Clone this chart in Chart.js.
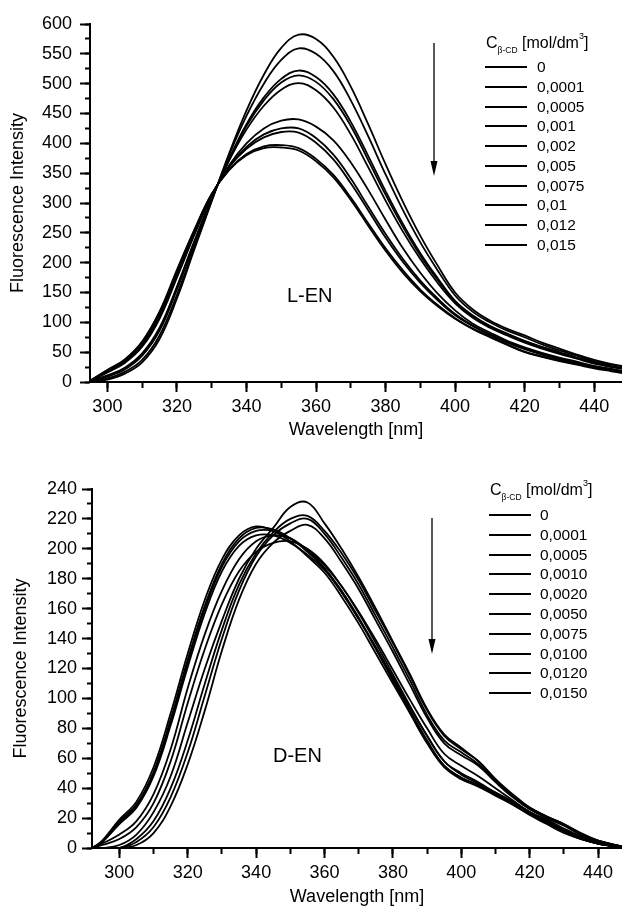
<!DOCTYPE html>
<html>
<head>
<meta charset="utf-8">
<script src="https://cdn.jsdelivr.net/npm/chart.js@4.4.0/dist/chart.umd.min.js"></script>
<style>
  body { margin: 0; background: #fff; }
  #wrap { position: relative; width: 622px; height: 908px; overflow: hidden;
          font-family: "Liberation Sans", Arial, sans-serif; color: #000; }
  canvas { position: absolute; left: 0; }
  .ltitle { position: absolute; white-space: nowrap; font-size: 16px; line-height: 20px; }
  .ltitle sub { font-size: 8.5px; line-height: 0; vertical-align: -5px; }
  .ltitle sup { font-size: 9px; line-height: 0; vertical-align: 9px; }
  .row { position: absolute; height: 20px; white-space: nowrap; }
  .row .ln { position: absolute; left: 0; top: 9px; width: 42px; height: 2px; background: #000; }
  .row .tx { position: absolute; top: 0; font-size: 15.5px; line-height: 20px; }
  .tag { position: absolute; font-size: 20px; line-height: 20px; white-space: nowrap; }
  svg { position: absolute; left: 0; top: 0; }
</style>
</head>
<body>
<div id="wrap">
  <canvas id="topChart" width="622" height="450" style="top:0"></canvas>
  <canvas id="bottomChart" width="622" height="458" style="top:450px"></canvas>
  <div class="tag" style="left:287px;top:285px">L-EN</div>
  <div class="tag" style="left:273px;top:745px">D-EN</div>
  <svg width="622" height="908">
    <line x1="434" y1="43" x2="434" y2="163" stroke="#000" stroke-width="1.3"/>
    <polygon points="430.5,161 437.5,161 434,176" fill="#000"/>
    <line x1="432" y1="518" x2="432" y2="641" stroke="#000" stroke-width="1.3"/>
    <polygon points="428.5,639 435.5,639 432,654" fill="#000"/>
  </svg>
</div>
<script>
// ---- L-EN (upper panel) ----
const topWavelength = [295,300,305,310,315,320,325,330,335,340,345,350,355,360,365,370,375,380,385,390,395,400,405,410,415,420,425,430,435,440,445,448];
const topConcLabels = ['0', '0,0001', '0,0005', '0,001', '0,002', '0,005', '0,0075', '0,01', '0,012', '0,015'];
const lEn0     = [0,4,14,33,72,140,222,303,383,455,515,560,582,575,545,495,432,365,302,245,195,150,122,103,89,78,66,56,46,37,30,27];
const lEn00001 = [0,6,17,37,78,146,226,304,380,446,500,540,559,550,521,472,412,348,288,234,187,145,118,100,86,75,63,53,44,35,29,26];
const lEn00005 = [1,9,21,44,86,155,232,307,374,432,477,508,522,511,482,436,379,320,265,216,174,136,112,94,81,69,59,50,41,33,26,23];
const lEn0001  = [1,10,22,45,88,157,234,307,372,429,472,502,514,503,474,429,372,314,260,212,171,135,111,93,80,68,58,49,40,32,26,23];
const lEn0002  = [1,11,24,48,91,160,236,308,371,423,463,490,501,489,460,415,360,304,252,206,166,132,108,91,78,66,56,47,39,31,25,22];
const lEn0005  = [1,16,32,59,106,175,246,312,363,400,425,438,440,428,405,368,322,272,224,183,148,120,98,83,69,58,49,41,34,27,22,19];
const lEn00075 = [2,17,34,62,111,178,249,313,361,394,415,425,425,409,381,341,294,248,206,170,140,114,95,80,67,56,47,39,32,26,21,18];
const lEn001   = [2,18,35,63,113,181,250,313,360,391,410,419,418,401,373,333,288,242,201,166,137,112,94,79,66,55,46,38,31,25,20,17];
const lEn0012  = [2,20,37,67,117,186,254,315,356,382,395,397,392,374,347,309,266,224,187,155,129,107,90,76,63,51,43,36,30,24,19,16];
const lEn0015  = [2,20,38,68,118,188,255,315,355,380,392,393,388,370,343,305,262,220,183,152,127,106,89,75,62,50,42,35,29,23,18,15];

// ---- D-EN (lower panel) ----
const bottomWavelength = [292,295,300,305,310,315,320,325,330,335,340,345,350,355,360,365,370,375,380,385,390,395,400,405,410,415,420,425,430,435,440,445,447];
const bottomConcLabels = ['0', '0,0001', '0,0005', '0,0010', '0,0020', '0,0050', '0,0075', '0,0100', '0,0120', '0,0150'];
const dEn0     = [0,0,2,9,24,48,84,120,152,180,200,214,228,231,217,200,181,160,138,116,93,76,67,58,46,36,27,21,16,9,5,2,1];
const dEn00001 = [0,0,0,6,18,40,72,110,146,176,197,211,220,222,212,197,179,158,137,115,92,75,66,58,46,35,27,21,15,9,5,2,1];
const dEn00005 = [0,0,0,4,14,34,64,102,140,172,195,209,217,220,210,194,176,155,134,112,89,72,64,56,45,35,26,20,15,9,4,2,1];
const dEn0001  = [0,0,0,2,10,28,56,92,132,166,190,204,212,216,207,191,173,152,131,109,87,70,62,55,44,34,26,21,16,10,5,2,1];
const dEn0002  = [0,2,6,14,30,58,97,133,163,185,198,204,205,200,190,175,158,139,119,99,80,63,55,48,40,32,24,19,13,8,4,2,1];
const dEn0005  = [0,3,9,18,36,66,107,143,172,193,205,209,207,199,187,171,153,134,114,94,75,58,50,44,37,31,24,18,12,7,3,1,0];
const dEn00075 = [0,5,19,31,54,90,130,166,193,209,215,212,205,195,184,168,150,130,110,90,70,54,46,41,35,29,22,16,10,6,3,1,0];
const dEn001   = [0,4,18,29,51,86,126,162,190,207,214,213,207,198,187,172,154,134,113,92,72,55,47,42,36,30,23,17,11,6,3,1,0];
const dEn0012  = [0,4,17,28,49,84,124,160,188,205,212,212,207,199,189,175,157,137,116,95,75,58,49,43,37,31,24,18,12,7,3,1,0];
const dEn0015  = [0,4,16,27,48,82,121,157,185,202,209,209,204,196,186,171,153,133,112,91,71,55,47,42,36,30,23,17,11,6,3,1,0];

Chart.defaults.font.family = '"Liberation Sans", Arial, sans-serif';
Chart.defaults.color = '#000';

function buildChart(id, wl, series, labels, o) {
    const datasets = series.map((vals, i) => ({
        label: labels[i],
        data: vals.map((v, k) => ({ x: wl[k], y: v })),
        borderColor: '#000',
        borderWidth: 1.8,
        pointRadius: 0,
        tension: 0.4,
        fill: false
    }));
    const tickGrid = (len) => ({ drawOnChartArea: false, tickLength: len, tickWidth: 2, tickColor: '#000' });

    new Chart(document.getElementById(id), {
        type: 'line',
        data: { datasets: datasets },
        options: {
            responsive: false,
            animation: false,
            layout: { padding: { top: o.padTop, right: 0, left: 0, bottom: 0 } },
            plugins: { legend: { display: false }, tooltip: { enabled: false } },
            scales: {
                x: {
                    type: 'linear', position: 'bottom', weight: 1, min: o.xMin, max: o.xMax,
                    ticks: { stepSize: 20, includeBounds: false, padding: o.xPad, font: { size: 18 }, maxRotation: 0, autoSkip: false },
                    grid: tickGrid(10),
                    border: { color: '#000', width: 2 },
                    title: { display: true, text: 'Wavelength [nm]', font: { size: 18 }, padding: { top: 0, bottom: o.xTitlePad } },
                    afterFit: s => { s.height = o.xH; }
                },
                xMinor: {
                    type: 'linear', position: 'bottom', weight: 0, min: o.xMin, max: o.xMax,
                    ticks: { stepSize: 10, includeBounds: false, display: false },
                    grid: tickGrid(6),
                    border: { display: false },
                    afterFit: s => { s.height = 0; }
                },
                y: {
                    type: 'linear', position: 'left', weight: 1, min: 0, max: o.yMax,
                    ticks: { stepSize: o.yStep, padding: o.yPad, font: { size: 18 } },
                    grid: tickGrid(10),
                    border: { color: '#000', width: 2 },
                    title: { display: true, text: 'Fluorescence Intensity', font: { size: 18 }, padding: { top: o.yTitlePad, bottom: 0 } },
                    afterFit: s => { s.width = o.yW; }
                },
                yMinor: {
                    type: 'linear', position: 'left', weight: 0, min: 0, max: o.yMax,
                    ticks: { stepSize: o.yStep / 2, display: false },
                    grid: tickGrid(5),
                    border: { display: false },
                    afterFit: s => { s.width = 0; }
                }
            }
        }
    });
}

// legend drawn as html so the subscript / superscript stay real text
function buildLegend(labels, x, titleY, rowY, rowStep, textGap) {
    const wrap = document.getElementById('wrap');
    const t = document.createElement('div');
    t.className = 'ltitle';
    t.style.left = x + 'px';
    t.style.top = (titleY - 10) + 'px';
    t.innerHTML = 'C<sub>β-CD</sub> [mol/dm<sup>3</sup>]';
    wrap.appendChild(t);
    labels.forEach((lab, i) => {
        const r = document.createElement('div');
        r.className = 'row';
        r.style.left = (x - 1) + 'px';
        r.style.top = (rowY + i * rowStep - 10) + 'px';
        r.innerHTML = '<div class="ln"></div><div class="tx" style="left:' + textGap + 'px">' + lab + '</div>';
        wrap.appendChild(r);
    });
}

buildChart('topChart', topWavelength,
    [lEn0, lEn00001, lEn00005, lEn0001, lEn0002, lEn0005, lEn00075, lEn001, lEn0012, lEn0015],
    topConcLabels,
    { padTop: 24, xMin: 295, xMax: 448, xH: 68, xPad: 4, xTitlePad: 9, yMax: 600, yStep: 50, yW: 90, yPad: 8, yTitlePad: 7 });

buildChart('bottomChart', bottomWavelength,
    [dEn0, dEn00001, dEn00005, dEn0001, dEn0002, dEn0005, dEn00075, dEn001, dEn0012, dEn0015],
    bottomConcLabels,
    { padTop: 39, xMin: 292, xMax: 447, xH: 60, xPad: 4, xTitlePad: 0, yMax: 240, yStep: 20, yW: 92, yPad: 5, yTitlePad: 10 });

buildLegend(topConcLabels, 486, 43, 67, 19.75, 52);
buildLegend(bottomConcLabels, 490, 490, 515, 19.8, 51);
</script>
</body>
</html>
